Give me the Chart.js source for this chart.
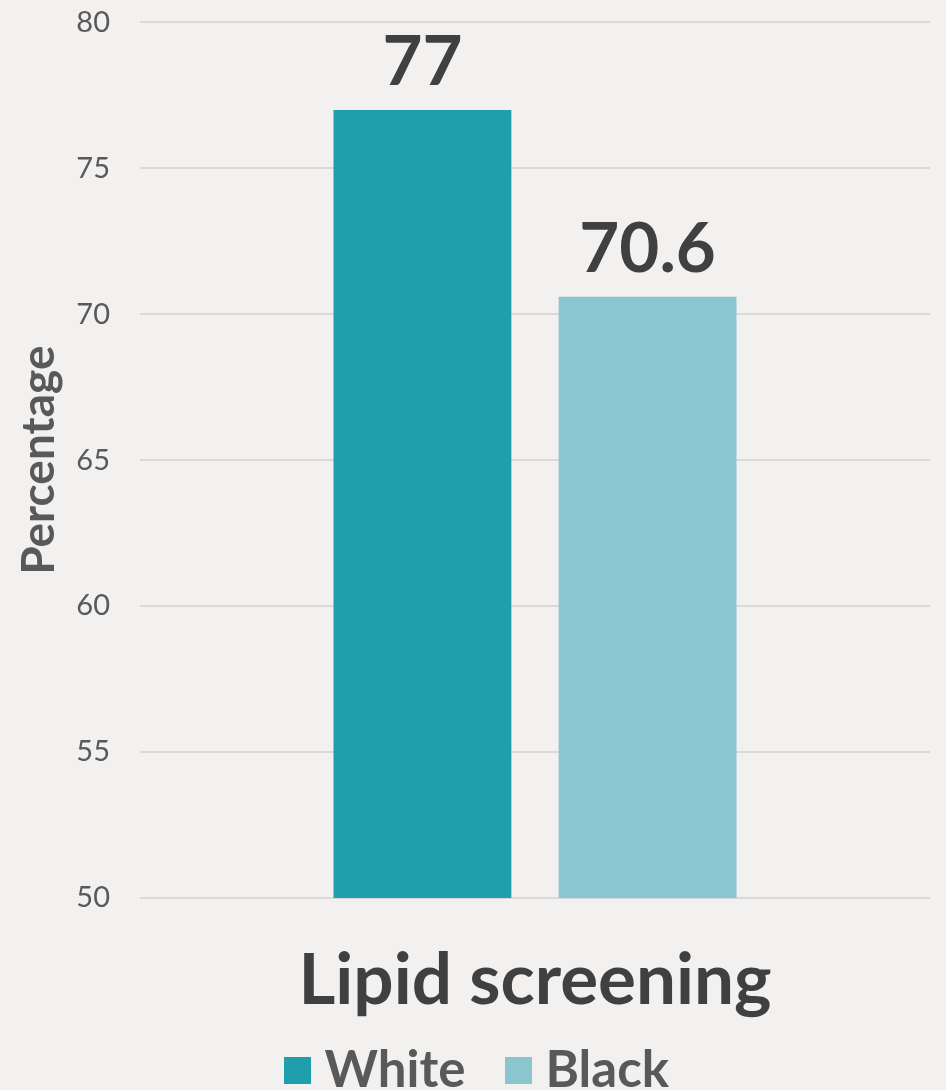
<!DOCTYPE html>
<html>
<head>
<meta charset="utf-8">
<script src="https://cdn.jsdelivr.net/npm/chart.js@4.4.1/dist/chart.umd.min.js"></script>
<style>
html, body {
    margin: 0;
    padding: 0;
    background: #f2f1f0;
}
#wrap {
    width: 946px;
    height: 1090px;
}
</style>
</head>
<body>
<div id="wrap"><canvas id="chart"></canvas></div>
<script>
var categories = ["Lipid screening"];
var whiteValues = [77];
var blackValues = [70.6];
var seriesNames = ["White", "Black"];
var seriesColors = ["#1f9eab", "#89c6d0"];

// square legend markers, drawn as little canvases so the text can sit closer
function swatch(color) {
    var c = document.createElement("canvas");
    c.width = 27;
    c.height = 27;
    var g = c.getContext("2d");
    g.fillStyle = color;
    g.fillRect(0, 0, 27, 27);
    return c;
}
var swatches = seriesColors.map(swatch);

// draws the value above each bar
var valueLabels = {
    id: "valueLabels",
    afterDatasetsDraw: function(chart) {
        var ctx = chart.ctx;
        ctx.save();
        ctx.font = "bold 69px Lato";
        ctx.fillStyle = "#404040";
        ctx.textAlign = "center";
        ctx.textBaseline = "alphabetic";
        chart.data.datasets.forEach(function(ds, i) {
            chart.getDatasetMeta(i).data.forEach(function(bar, j) {
                ctx.fillText(ds.data[j], bar.x, bar.y - 25);
            });
        });
        ctx.restore();
    }
};

new Chart(document.getElementById("chart"), {
    type: "bar",
    data: {
        labels: categories,
        datasets: [{
            label: seriesNames[0],
            data: whiteValues,
            backgroundColor: seriesColors[0]
        }, {
            label: seriesNames[1],
            data: blackValues,
            backgroundColor: seriesColors[1]
        }]
    },
    options: {
        responsive: true,
        maintainAspectRatio: false,
        animation: false,
        categoryPercentage: 0.57,
        barPercentage: 0.79,
        layout: { padding: { top: 0, right: 16, left: 36, bottom: -16 } },
        scales: {
            y: {
                min: 50,
                max: 80,
                afterFit: function(scale) { scale.width = 104; },
                ticks: {
                    stepSize: 5,
                    padding: 5,
                    color: "#595959",
                    font: { family: "Lato", size: 29 }
                },
                grid: { color: "#d9d9d9", lineWidth: 2, drawTicks: true, tickLength: 25, tickColor: "rgba(0,0,0,0)" },
                border: { display: false },
                title: {
                    display: true,
                    text: "Percentage",
                    color: "#595959",
                    padding: { top: -24, bottom: 0 },
                    font: { family: "Lato", size: 46, weight: "bold" }
                }
            },
            x: {
                afterFit: function(scale) { scale.height = 138; },
                ticks: {
                    color: "#404040",
                    padding: 57,
                    font: { family: "Lato", size: 71, weight: "bold", lineHeight: 0.73 }
                },
                grid: { display: false, drawTicks: false },
                border: { display: false }
            }
        },
        plugins: {
            legend: {
                position: "bottom",
                labels: {
                    color: "#595959",
                    usePointStyle: true,
                    boxWidth: 2,
                    boxHeight: 27,
                    padding: 9,
                    font: { family: "Lato", size: 51, weight: "bold" },
                    generateLabels: function(chart) {
                        var items = Chart.defaults.plugins.legend.labels.generateLabels(chart);
                        items.forEach(function(it, i) {
                            it.pointStyle = swatches[i];
                            // extra room after the first entry, like the original spacing
                            if (i === 0) it.text = it.text + "\u00a0\u00a0\u00a0\u2009";
                        });
                        return items;
                    }
                }
            },
            tooltip: { enabled: false }
        }
    },
    plugins: [valueLabels]
});
</script>
</body>
</html>
